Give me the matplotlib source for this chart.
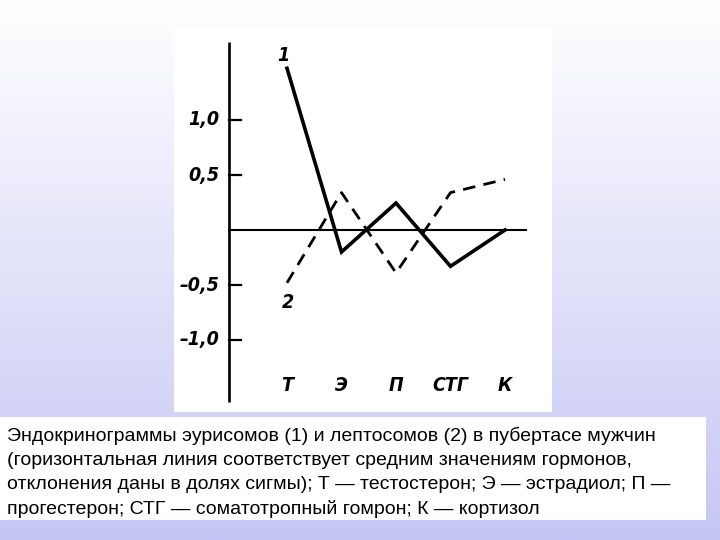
import numpy as np
import matplotlib
matplotlib.use("Agg")
import matplotlib.pyplot as plt
from matplotlib.patches import Rectangle

# ─── Данные ───
categories = ["Т", "Э", "П", "СТГ", "К"]
eurysomes = [1.47, -0.20, 0.245, -0.33, 0.0]      # кривая 1
leptosomes = [-0.48, 0.34, -0.39, 0.34, 0.46]     # кривая 2
yticks = [1.0, 0.5, -0.5, -1.0]
ytick_labels = ["1,0", "0,5", "–0,5", "–1,0"]

caption_lines = [
    "Эндокринограммы эурисомов (1) и лептосомов (2) в пубертасе мужчин",
    "(горизонтальная линия соответствует средним значениям гормонов,",
    "отклонения даны в долях сигмы); Т — тестостерон; Э — эстрадиол; П —",
    "прогестерон; СТГ — соматотропный гомрон; К — кортизол",
]

W, H = 720, 540
fig = plt.figure(figsize=(7.2, 5.4), dpi=100)

# фон с градиентом
bg = fig.add_axes([0, 0, 1, 1], zorder=0)
t = np.linspace(0, 1, 256)[:, None]
top = np.array([255, 255, 255]) / 255
bottom = np.array([198, 198, 245]) / 255
grad = top + (bottom - top) * t[..., None]
grad = np.repeat(grad, 2, axis=1)
bg.imshow(grad, aspect="auto", extent=[0, 1, 0, 1], origin="upper")
bg.set_xlim(0, 1)
bg.set_ylim(0, 1)
bg.axis("off")

# подпись
bg.add_patch(Rectangle((0, 1 - 520 / H), 706 / W, (520 - 417) / H,
                       facecolor="white", edgecolor="none", zorder=2))
for k, line in enumerate(caption_lines):
    bg.text(7 / W, 1 - (434 + 24.3 * k) / H, line, ha="left", va="center_baseline",
            fontsize=14, family="Liberation Sans", zorder=3)

# ─── Панель графика ───
px0, px1, py0, py1 = 174, 552, 27, 412
ax = fig.add_axes([px0 / W, 1 - py1 / H, (px1 - px0) / W, (py1 - py0) / H], zorder=1)
ax.set_facecolor("white")

x0, dx = 287, 54.5   # пиксели: позиция первой категории и шаг
y0, dy = 230, 110    # пиксели: нулевая линия и масштаб на единицу
ax.set_xlim((px0 - x0) / dx, (px1 - x0) / dx)
ax.set_ylim((y0 - py1) / dy, (y0 - py0) / dy)
for s in ax.spines.values():
    s.set_visible(False)
ax.set_xticks([])
ax.set_yticks([])

xs = np.arange(len(categories))
ax_x = (229 - x0) / dx
ax.plot([ax_x, ax_x], [(y0 - 402) / dy, (y0 - 42) / dy], color="black", lw=1.9,
        solid_capstyle="butt")
ax.plot([ax_x, (526 - x0) / dx], [0, 0], color="black", lw=1.5)

tick_len = 12 / dx
lab_font = dict(family="DejaVu Sans", stretch="condensed", style="italic",
                weight="bold", fontsize=14)
for v, lab in zip(yticks, ytick_labels):
    ax.plot([ax_x, ax_x + tick_len], [v, v], color="black", lw=1.6)
    ax.text((219 - x0) / dx, v, lab, ha="right", va="center", **lab_font)

ax.plot(xs, eurysomes, color="black", lw=2.6, solid_joinstyle="miter")
ax.plot(xs, leptosomes, color="black", lw=2.0, dashes=(4.5, 3))

ax.text(-0.07, 1.59, "1", ha="center", va="center", **lab_font)
ax.text(0.02, -0.66, "2", ha="center", va="center", **lab_font)

for i, c in enumerate(categories):
    ax.text(i, -1.41, c, ha="center", va="center", **lab_font)

plt.savefig("out.png", dpi=100)
